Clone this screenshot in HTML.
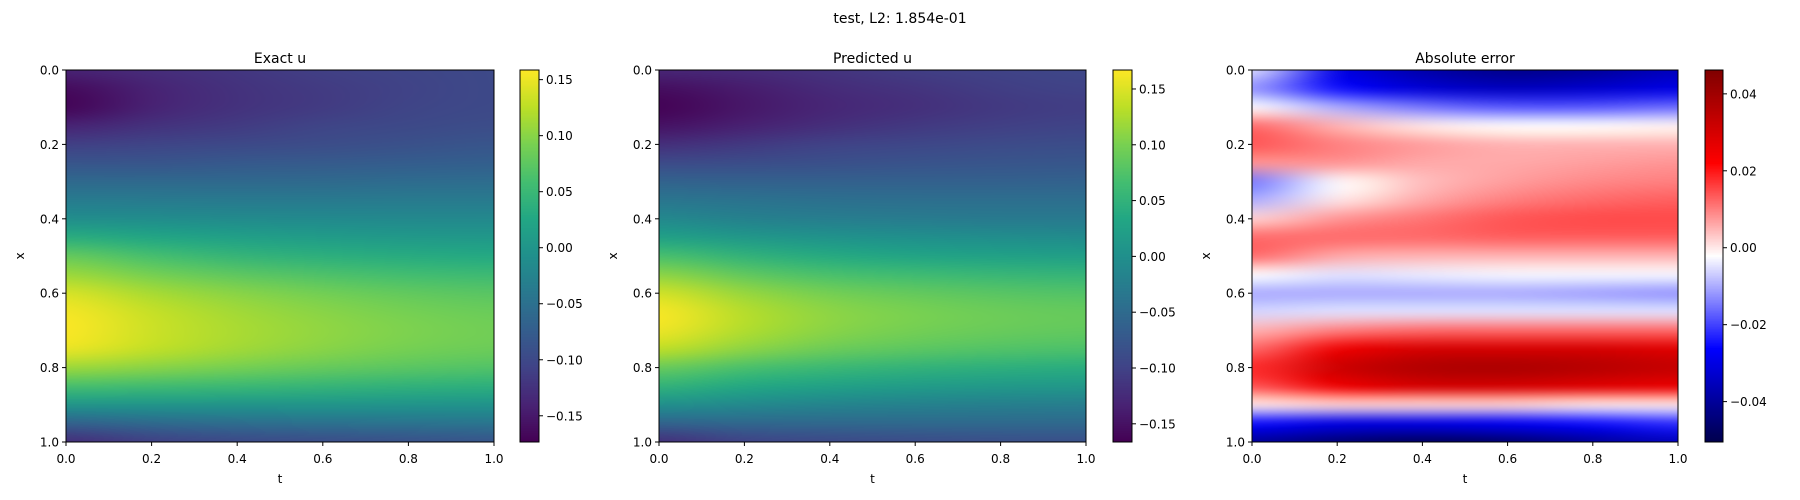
<!DOCTYPE html>
<html><head><meta charset="utf-8"><style>
body{margin:0;background:#fff;width:1800px;height:500px;overflow:hidden;position:relative;font-family:"DejaVu Sans","Liberation Sans",sans-serif}
canvas{position:absolute}
svg{position:absolute;left:0;top:0}
</style></head><body>
<div id="root"></div>
<script>
const xGrid=[0,0.05,0.1,0.15,0.2,0.25,0.3,0.35,0.4,0.45,0.5,0.55,0.6,0.65,0.7,0.75,0.8,0.85,0.9,0.95,1];
const tGrid=[0,0.2,0.4,0.6,0.8,1];
const exactU=[
[-0.14,-0.13,-0.12,-0.11,-0.105,-0.10],
[-0.165,-0.14,-0.125,-0.115,-0.107,-0.10],
[-0.17,-0.14,-0.125,-0.115,-0.105,-0.10],
[-0.14,-0.125,-0.115,-0.105,-0.10,-0.095],
[-0.11,-0.105,-0.10,-0.095,-0.09,-0.085],
[-0.085,-0.085,-0.08,-0.078,-0.075,-0.072],
[-0.06,-0.06,-0.06,-0.058,-0.056,-0.055],
[-0.035,-0.037,-0.038,-0.038,-0.037,-0.036],
[-0.01,-0.012,-0.015,-0.016,-0.017,-0.017],
[0.035,0.025,0.015,0.01,0.006,0.004],
[0.08,0.06,0.045,0.037,0.032,0.028],
[0.11,0.09,0.075,0.065,0.057,0.052],
[0.14,0.115,0.10,0.088,0.078,0.072],
[0.155,0.13,0.112,0.10,0.09,0.083],
[0.158,0.133,0.116,0.104,0.094,0.087],
[0.15,0.128,0.112,0.10,0.09,0.084],
[0.11,0.10,0.09,0.08,0.073,0.068],
[0.06,0.055,0.05,0.045,0.04,0.037],
[0.0,0.0,0.0,0.0,-0.002,-0.003],
[-0.07,-0.06,-0.055,-0.05,-0.047,-0.045],
[-0.13,-0.11,-0.10,-0.095,-0.09,-0.085]];
const predU=[
[-0.13,-0.125,-0.115,-0.105,-0.10,-0.095],
[-0.155,-0.14,-0.125,-0.115,-0.105,-0.10],
[-0.165,-0.145,-0.13,-0.12,-0.11,-0.105],
[-0.15,-0.135,-0.12,-0.11,-0.103,-0.098],
[-0.12,-0.11,-0.10,-0.095,-0.09,-0.087],
[-0.09,-0.087,-0.083,-0.08,-0.078,-0.076],
[-0.06,-0.062,-0.063,-0.063,-0.062,-0.061],
[-0.035,-0.04,-0.043,-0.045,-0.045,-0.045],
[-0.01,-0.02,-0.025,-0.028,-0.03,-0.03],
[0.025,0.012,0.005,0.0,-0.003,-0.005],
[0.07,0.05,0.038,0.03,0.025,0.022],
[0.11,0.085,0.07,0.062,0.056,0.052],
[0.145,0.115,0.097,0.087,0.08,0.076],
[0.165,0.13,0.11,0.10,0.092,0.088],
[0.16,0.128,0.108,0.097,0.09,0.086],
[0.135,0.11,0.092,0.082,0.076,0.072],
[0.09,0.07,0.058,0.05,0.045,0.042],
[0.05,0.035,0.025,0.018,0.014,0.012],
[0.0,-0.01,-0.016,-0.02,-0.023,-0.025],
[-0.06,-0.055,-0.053,-0.052,-0.052,-0.052],
[-0.12,-0.1,-0.092,-0.088,-0.085,-0.083]];
const errU=[
[-0.005,-0.03,-0.038,-0.042,-0.04,-0.035],
[-0.012,-0.025,-0.032,-0.035,-0.033,-0.03],
[-0.002,-0.01,-0.015,-0.018,-0.018,-0.016],
[0.012,0.005,0.0,-0.002,-0.002,-0.001],
[0.014,0.01,0.007,0.005,0.005,0.005],
[0.008,0.008,0.006,0.006,0.007,0.008],
[-0.015,-0.002,0.004,0.007,0.009,0.01],
[-0.01,0.0,0.006,0.01,0.012,0.013],
[0.002,0.008,0.011,0.014,0.015,0.015],
[0.012,0.012,0.012,0.013,0.013,0.013],
[0.012,0.006,0.005,0.005,0.005,0.005],
[-0.002,-0.005,-0.004,-0.003,-0.003,-0.003],
[-0.01,-0.01,-0.01,-0.01,-0.011,-0.012],
[-0.006,-0.005,-0.005,-0.005,-0.005,-0.005],
[0.005,0.01,0.012,0.012,0.012,0.012],
[0.012,0.025,0.03,0.03,0.03,0.028],
[0.018,0.032,0.037,0.038,0.036,0.033],
[0.014,0.025,0.03,0.03,0.028,0.026],
[0.0,0.002,0.002,0.002,0.0,0.0],
[-0.025,-0.03,-0.03,-0.028,-0.025,-0.022],
[-0.04,-0.045,-0.048,-0.046,-0.04,-0.035]];
const axisTicks=[0,0.2,0.4,0.6,0.8,1.0];
const axisTickLabels=["0.0","0.2","0.4","0.6","0.8","1.0"];
const cb1Ticks=[-0.15,-0.10,-0.05,0,0.05,0.10,0.15];
const cb3Ticks=[-0.04,-0.02,0,0.02,0.04];
const ranges=[[-0.1734,0.1586],[-0.1663,0.167],[-0.0505,0.0462]];

const VIR=[[68,1,84],[72,35,116],[64,67,135],[52,94,141],[41,120,142],[32,144,140],[34,167,132],[68,190,112],[121,209,81],[189,223,38],[253,231,37]];
const SEI=[[0,0,77],[0,0,255],[255,255,255],[255,0,0],[128,0,0]];
function cmap(stops,f){f=Math.max(0,Math.min(1,f));const n=stops.length-1;const p=f*n;const i=Math.min(n-1,Math.floor(p));const r=p-i;return stops[i].map((c,k)=>Math.round(c+(stops[i+1][k]-c)*r));}

const root=document.getElementById('root');
const NS='http://www.w3.org/2000/svg';
const svg=document.createElementNS(NS,'svg');
svg.setAttribute('width','1800');svg.setAttribute('height','500');


function el(tag,attrs,parent){const e=document.createElementNS(NS,tag);for(const k in attrs)e.setAttribute(k,attrs[k]);(parent||svg).appendChild(e);return e;}
function txt(s,x,y,size,anchor,parent){const t=el('text',{x:x,y:y,'font-size':size,'text-anchor':anchor||'middle','font-family':'DejaVu Sans, Liberation Sans, sans-serif',fill:'#000'},parent);t.textContent=s;return t;}
const fmt=v=>(v<0?'\u2212':'')+Math.abs(v).toFixed(2);

const panels=[
 {name:'exact',title:'Exact u',data:exactU,L:66,R:494,cbL:520,cbR:539,stops:VIR,range:ranges[0],ticks:cb1Ticks},
 {name:'predicted',title:'Predicted u',data:predU,L:659,R:1086,cbL:1113,cbR:1132,stops:VIR,range:ranges[1],ticks:cb1Ticks},
 {name:'error',title:'Absolute error',data:errU,L:1252,R:1678,cbL:1705,cbR:1723,stops:SEI,range:ranges[2],ticks:cb3Ticks}];
const T=70,B=442;

panels.forEach(p=>{
 const g=el('g',{});
 
 
 const [lo,hi]=p.range;
 const xs=v=>p.L+(v)*(p.R-p.L);
 const ys=v=>T+v*(B-T);
 const cs=v=>B-(v-lo)/(hi-lo)*(B-T);
 // heatmap
 const small=document.createElement('canvas');
 small.width=tGrid.length;small.height=xGrid.length;
 const sc=small.getContext('2d');const im=sc.createImageData(small.width,small.height);
 p.data.forEach((row,i)=>row.forEach((v,j)=>{const c=cmap(p.stops,(v-lo)/(hi-lo));const o=(i*small.width+j)*4;im.data[o]=c[0];im.data[o+1]=c[1];im.data[o+2]=c[2];im.data[o+3]=255;}));
 sc.putImageData(im,0,0);
 const cv=document.createElement('canvas');
 cv.width=p.R-p.L;cv.height=B-T;cv.style.left=p.L+'px';cv.style.top=T+'px';
 
 
 const cx=cv.getContext('2d');cx.imageSmoothingEnabled=true;cx.imageSmoothingQuality='high';
 const cw=cv.width/(tGrid.length-1),ch=cv.height/(xGrid.length-1);
 cx.drawImage(small,0,0,small.width,small.height,-cw/2,-ch/2,cv.width+cw,cv.height+ch);
 root.appendChild(cv);
 // colorbar
 const cb=document.createElement('canvas');
 cb.width=p.cbR-p.cbL;cb.height=B-T;cb.style.left=p.cbL+'px';cb.style.top=T+'px';
 
 
 const cc=cb.getContext('2d');
 for(let y=0;y<cb.height;y++){const c=cmap(p.stops,1-(y+0.5)/cb.height);cc.fillStyle=`rgb(${c})`;cc.fillRect(0,y,cb.width,1);}
 root.appendChild(cb);
 // frames
 el('rect',{x:p.L,y:T,width:p.R-p.L,height:B-T,fill:'none',stroke:'#000','stroke-width':1},g);
 el('rect',{x:p.cbL,y:T,width:p.cbR-p.cbL,height:B-T,fill:'none',stroke:'#000','stroke-width':1},g);
 axisTicks.forEach((v,i)=>{
  el('line',{x1:xs(v),x2:xs(v),y1:B,y2:B+4,stroke:'#000'},g);
  txt(axisTickLabels[i],xs(v),B+21,12,'middle',g);
  el('line',{x1:p.L-4,x2:p.L,y1:ys(v),y2:ys(v),stroke:'#000'},g);
  txt(axisTickLabels[i],p.L-7,ys(v)+4.5,12,'end',g);
 });
 p.ticks.forEach(v=>{
  el('line',{x1:p.cbR,x2:p.cbR+4,y1:cs(v),y2:cs(v),stroke:'#000'},g);
  txt(fmt(v),p.cbR+7,cs(v)+4.5,12,'start',g);
 });
 const tt=txt(p.title,(p.L+p.R)/2,63,14,'middle',g);
 
 
 const xl=txt('t',(p.L+p.R)/2,483,12,'middle',g);
 
 
 const yl=txt('x',0,0,12,'middle',g);
 yl.setAttribute('transform',`translate(${p.L-42},${(T+B)/2}) rotate(-90)`);
 
 
});
const st=txt('test, L2: 1.854e-01',900,23,14,'middle');


root.appendChild(svg);
</script>
</body></html>
